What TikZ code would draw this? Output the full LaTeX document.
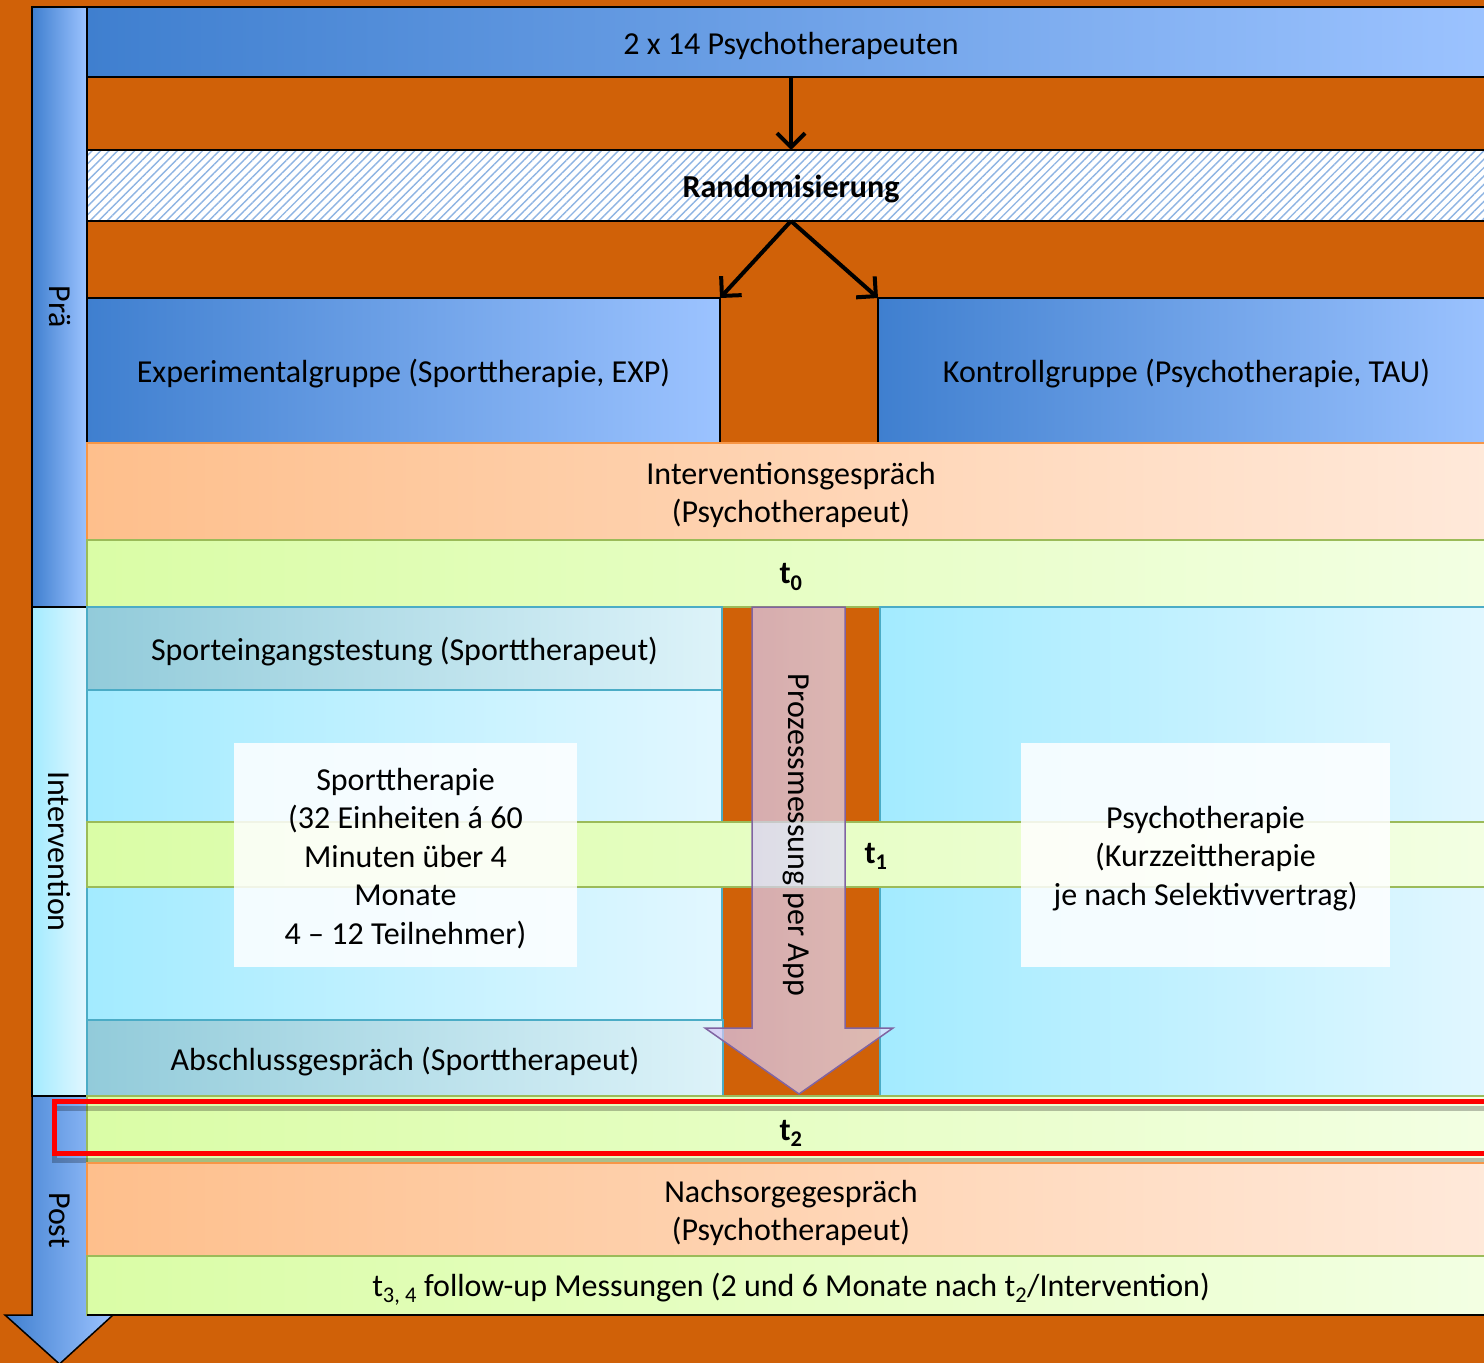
\documentclass[tikz,border=0pt]{standalone}
\usepackage{fontspec}
\setmainfont{Carlito}
\usetikzlibrary{arrows.meta,patterns.meta}
\definecolor{bgorange}{RGB}{208,97,8}
\definecolor{blueD}{RGB}{63,127,207}
\definecolor{blueL}{RGB}{156,195,255}
\definecolor{peachL}{RGB}{254,191,140}
\definecolor{peachR}{RGB}{255,233,218}
\definecolor{peachB}{RGB}{247,150,70}
\definecolor{greenL}{RGB}{218,253,166}
\definecolor{greenR}{RGB}{243,255,227}
\definecolor{greenB}{RGB}{155,187,89}
\definecolor{cyanL}{RGB}{163,235,255}
\definecolor{cyanR}{RGB}{226,247,255}
\definecolor{cyanB}{RGB}{75,172,198}
\definecolor{tealL}{RGB}{146,203,218}
\definecolor{tealR}{RGB}{221,243,249}
\definecolor{hatchblue}{RGB}{142,180,227}
\definecolor{arrL}{RGB}{214,198,245}
\definecolor{arrR}{RGB}{229,226,251}
\definecolor{arrB}{RGB}{128,100,162}
\newcommand{\mainsize}{\fontsize{32}{38.5}\selectfont}
\begin{document}
\begin{tikzpicture}[x=1pt,y=-1pt,
  box/.style={inner sep=0pt, outer sep=0pt},
  blueband/.style={box, draw=black, line width=1.5pt, left color=blueD, right color=blueL},
  hatchband/.style={box, draw=black, line width=1.5pt, preaction={fill=white},
     pattern={Lines[angle=45,distance=6pt,line width=1.4pt]}, pattern color=hatchblue},
  peachband/.style={box, draw=peachB, line width=1.5pt, left color=peachL, right color=peachR},
  greenband/.style={box, draw=greenB, line width=1.5pt, left color=greenL, right color=greenR},
  cyanband/.style={box, draw=cyanB, line width=1.5pt, left color=cyanL, right color=cyanR},
  tealband/.style={box, draw=cyanB, line width=1.5pt, left color=tealL, right color=tealR},
  whitebox/.style={box, fill=white, fill opacity=0.85},
  blkarrow/.style={line width=4pt, -{Straight Barb[length=14pt,width=28pt]}},
  lbl/.style={inner sep=0pt, font=\mainsize},
  txt/.style={inner sep=0pt, font=\mainsize, align=center, yshift=-3.5pt}
]
\useasboundingbox (0,0) rectangle (1484,1363);
\fill[bgorange] (0,0) rectangle (1484,1363);
\clip (0,0) rectangle (1484,1363);

% left column
\node[blueband, minimum width=55, minimum height=600] (pre) at (59.5,307) {};
\node[box, draw=black, line width=1.5pt, left color=cyanL, right color=cyanR,
      minimum width=55, minimum height=489] (intcol) at (59.5,851.5) {};
\path[draw=black, line width=1.5pt, left color=blueD, right color=blueL]
  (32,1096) -- (32,1315) -- (5,1315) -- (59.5,1364) -- (113,1315) -- (87,1315) -- (87,1096) -- cycle;
\coordinate (postc) at (59.5,1220);
\node[lbl, rotate=-90] (prel) at (pre.center) {Prä};
\node[lbl, rotate=-90] (intl) at (intcol.center) {Intervention};
\node[lbl, rotate=-90] (postl) at (postc) {Post};

% top part
\node[blueband, minimum width=1408, minimum height=70] (top) at (791,42) {};
\node[txt] (topt) at (top.center) {2 x 14 Psychotherapeuten};
\node[hatchband, minimum width=1408, minimum height=71] (rand) at (791,185.5) {};
\node[txt] (randt) at (rand.center) {\textbf{Randomisierung}};
\node[blueband, minimum width=633, minimum height=145] (exp) at (403.5,370.5) {};
\node[txt] (expt) at (exp.center) {Experimentalgruppe (Sporttherapie, EXP)};
\node[blueband, minimum width=617, minimum height=145] (kon) at (1186.5,370.5) {};
\node[txt] (kont) at (kon.center) {Kontrollgruppe (Psychotherapie, TAU)};
\draw[blkarrow] (top.south) -- (rand.north);
\draw[blkarrow] (rand.south) -- (exp.north east);
\draw[blkarrow] (rand.south) -- (kon.north west);

\node[peachband, minimum width=1408, minimum height=97] (interv) at (791,491.5) {};
\node[txt] (intervt) at (interv.center) {Interventionsgespräch\\(Psychotherapeut)};
\node[greenband, minimum width=1408, minimum height=67] (t0) at (791,573.5) {};
\node[txt] (t0t) at (t0.center) {\textbf{t\textsubscript{0}}};

% intervention section
\node[tealband, minimum width=635, minimum height=83] (sport) at (404.5,648.5) {};
\node[txt] (sportt) at (sport.center) {Sporteingangstestung (Sporttherapeut)};
\node[cyanband, minimum width=635, minimum height=330] (leftmid) at (404.5,855) {};
\node[tealband, minimum width=636, minimum height=76] (absch) at (405,1058) {};
\node[txt] (abscht) at (absch.center) {Abschlussgespräch (Sporttherapeut)};
\node[cyanband, minimum width=615, minimum height=489] (rightarea) at (1187.5,851.5) {};
\node[greenband, minimum width=1408, minimum height=65] (t1band) at (791,854.5) {};
\node[lbl] (t1) at (876,856) {\textbf{t\textsubscript{1}}};

% process arrow
\path[draw=arrB, line width=1.5pt, left color=arrL, right color=arrR, fill opacity=0.7]
  (752,607) -- (752,1028) -- (705,1028) -- (799,1094) -- (893,1028) -- (845,1028) -- (845,607) -- cycle;
\coordinate (prozc) at (796,835);
\node[lbl, rotate=-90] (proz) at (prozc) {Prozessmessung per App};

\node[whitebox, minimum width=343, minimum height=224] (sportbox) at (405.5,855) {};
\node[txt] (sportboxt) at (sportbox.center)
  {Sporttherapie\\(32 Einheiten á 60\\Minuten über 4\\Monate\\4 – 12 Teilnehmer)};
\node[whitebox, minimum width=369, minimum height=224] (psychbox) at (1205.5,855) {};
\node[txt] (psychboxt) at (psychbox.center)
  {Psychotherapie\\(Kurzzeittherapie\\je nach Selektivvertrag)};

% post part
\node[greenband, minimum width=1408, minimum height=67] (t2) at (791,1129.5) {};
\draw[black, opacity=0.25, line width=5pt] (54.5,1108) rectangle (1500,1160);
\draw[red, line width=5pt] (54.5,1101.5) rectangle (1500,1153);
\node[txt] (t2t) at (t2.center) {\textbf{t\textsubscript{2}}};
\node[peachband, minimum width=1408, minimum height=93] (nach) at (791,1209.5) {};
\node[txt] (nacht) at (nach.center) {Nachsorgegespräch\\(Psychotherapeut)};
\node[greenband, minimum width=1408, minimum height=59] (t34) at (791,1285.5) {};
\node[txt] (t34t) at (t34.center)
  {t\textsubscript{3, 4} follow-up Messungen (2 und 6 Monate nach t\textsubscript{2}/Intervention)};
\draw[black, line width=1.5pt] (t34.south west) -- (t34.south east);
\end{tikzpicture}
\end{document}
